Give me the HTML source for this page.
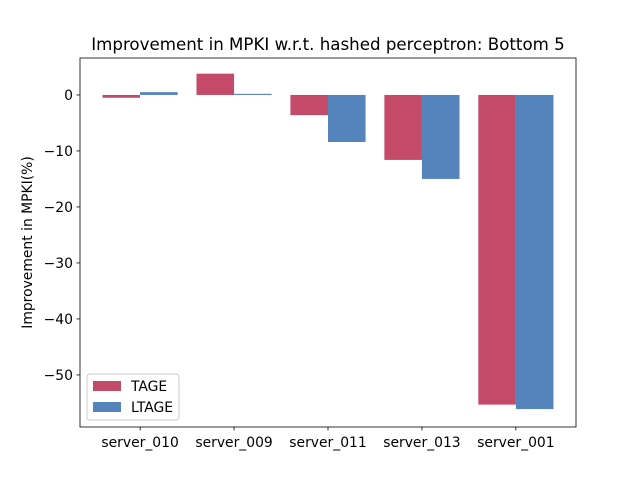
<!DOCTYPE html>
<html><head><meta charset="utf-8"><style>body{margin:0;background:#fff}svg{font-family:"DejaVu Sans","Liberation Sans",sans-serif}</style></head>
<body>
<svg id="chart" width="640" height="480" xmlns="http://www.w3.org/2000/svg"></svg>
<script>
const categories = ["server_010","server_009","server_011","server_013","server_001"];
const tageValues = [-0.5, 3.8, -3.6, -11.6, -55.3];
const ltageValues = [0.5, 0.2, -8.4, -15.0, -56.1];
const yTicks = [0, -10, -20, -30, -40, -50];
const seriesNames = ["TAGE","LTAGE"];

const NS="http://www.w3.org/2000/svg";
const svg=document.getElementById('chart');
const L=80,R=576,T=58,B=427;
const yMin=-59.3,yMax=6.6,xMin=-0.64,xMax=4.64;
const xS=v=>L+(v-xMin)/(xMax-xMin)*(R-L);
const yS=v=>T+(yMax-v)/(yMax-yMin)*(B-T);
function mk(tag,attrs,parent){const e=document.createElementNS(NS,tag);for(const k in attrs)e.setAttribute(k,attrs[k]);(parent||svg).appendChild(e);return e;}
const colors=["#c44a69","#5584bd"];
const w=0.4;
[tageValues,ltageValues].forEach((vals,si)=>{
  vals.forEach((v,i)=>{
    const x0=xS(i-w+si*w),x1=xS(i+si*w);
    const r=mk('rect',{x:x0,y:Math.min(yS(v),yS(0)),width:x1-x0,height:Math.abs(yS(v)-yS(0)),fill:colors[si]});
    
    
  });
});
mk('rect',{x:L,y:T,width:R-L,height:B-T,fill:'none',stroke:'#000','stroke-width':0.8});
yTicks.forEach(t=>{
  const y=yS(t);
  mk('line',{x1:L-3.5,x2:L,y1:y,y2:y,stroke:'#000','stroke-width':0.8});
  const tx=mk('text',{x:L-7,y:y+5,'text-anchor':'end','font-size':13.9});
  tx.textContent=t<0?'\u2212'+(-t):t;
  
  
});
categories.forEach((c,i)=>{
  const x=xS(i);
  mk('line',{x1:x,x2:x,y1:B,y2:B+3.5,stroke:'#000','stroke-width':0.8});
  const tx=mk('text',{x:x,y:B+20,'text-anchor':'middle','font-size':13.9});
  tx.textContent=c;
  
  
});
const title=mk('text',{x:(L+R)/2,y:50,'text-anchor':'middle','font-size':16.67});
title.textContent='Improvement in MPKI w.r.t. hashed perceptron: Bottom 5';


const yl=mk('text',{x:0,y:0,'text-anchor':'middle','font-size':13.9,transform:`translate(32,${(T+B)/2}) rotate(-90)`});
yl.textContent='Improvement in MPKI(%)';


const lg=mk('g',{});


mk('rect',{x:87,y:374,width:92,height:46,rx:3,fill:'#fff','fill-opacity':0.8,stroke:'#ccc'},lg);
seriesNames.forEach((n,i)=>{
  const y=381+i*21;
  mk('rect',{x:93,y:y,width:28,height:10,fill:colors[i]},lg);
  const t=mk('text',{x:131,y:y+10,'font-size':13.9},lg);
  t.textContent=n;
  
  
});
</script>
</body></html>
